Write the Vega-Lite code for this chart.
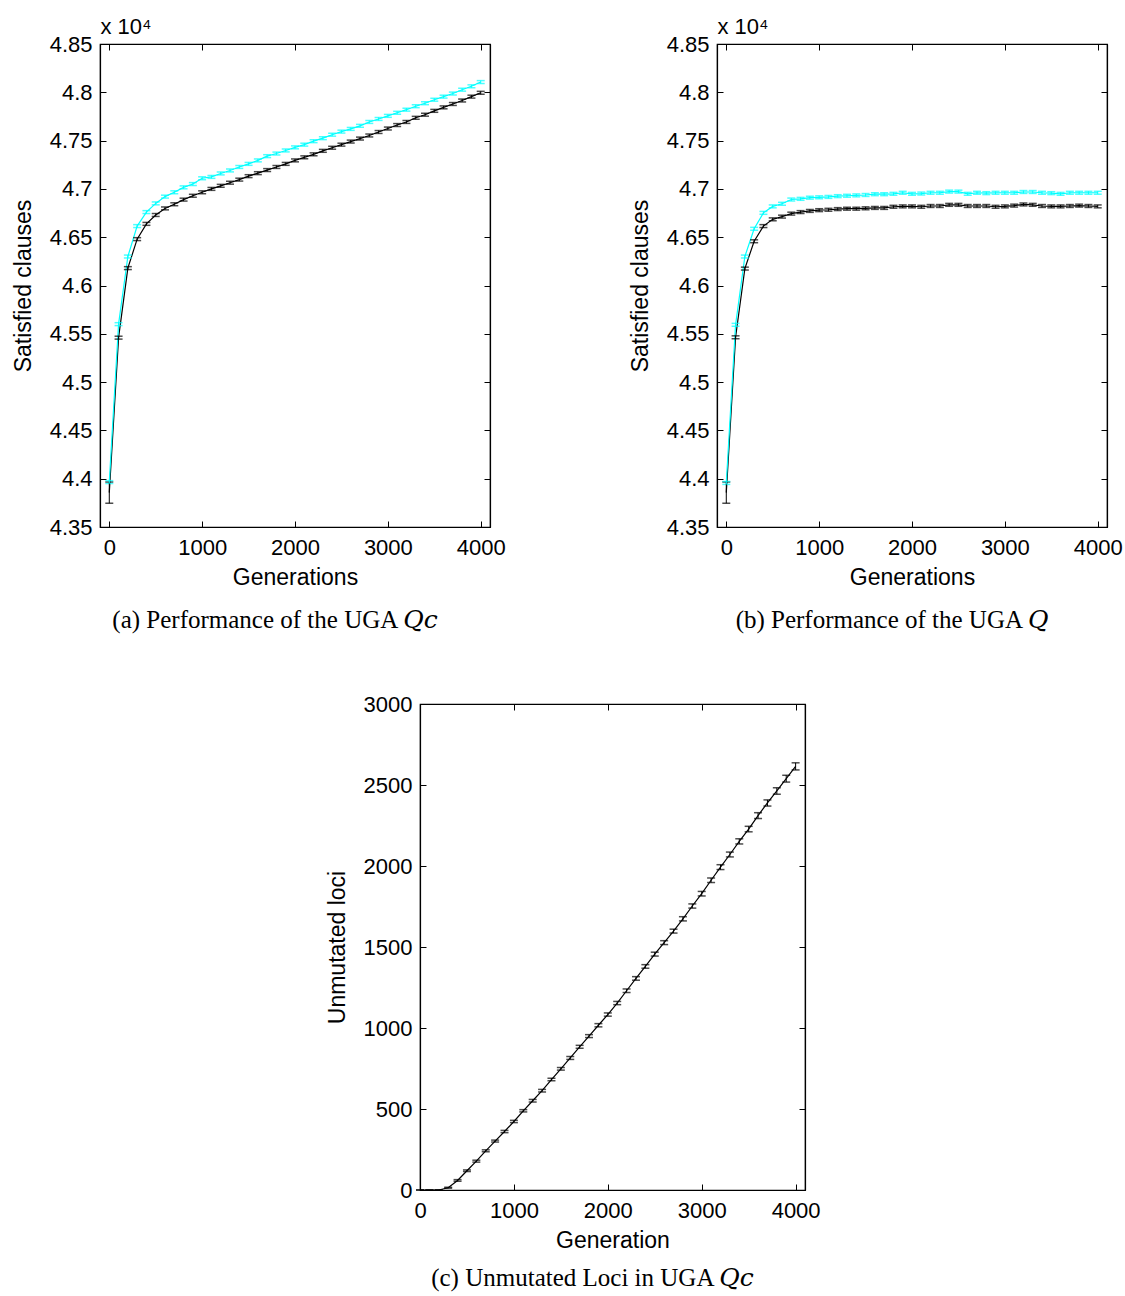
{
  "$schema": "https://vega.github.io/schema/vega-lite/v6.json",
  "autosize": {"type": "none"},
  "padding": {"left": 100, "top": 44, "right": 1025, "bottom": 1252},
  "background": "white",
  "config": {
    "view": {"stroke": "black", "strokeWidth": 1.2},
    "axis": {
      "labelFont": "Liberation Sans", "labelFontSize": 22, "labelColor": "black", "labelPadding": 14,
      "titleFont": "Liberation Sans", "titleFontSize": 23, "titleFontWeight": "normal", "titleColor": "black",
      "domainColor": "black", "domainWidth": 1.2, "tickColor": "black", "tickSize": -6, "grid": false,
      "labelFlush": false, "labelOverlap": false, "format": "d"
    },
    "title": {"font": "Liberation Serif, DejaVu Serif", "fontSize": 25, "fontWeight": "normal", "color": "black", "dx": -20}
  },
  "datasets": {
    "a": [
      {"g":0,"s":"black","m":4.3856,"e":0.011},{"g":100,"s":"black","m":4.546,"e":0.0015},{"g":200,"s":"black","m":4.618,"e":0.0015},{"g":300,"s":"black","m":4.648,"e":0.0015},{"g":400,"s":"black","m":4.6638,"e":0.0015},{"g":500,"s":"black","m":4.673,"e":0.0015},{"g":600,"s":"black","m":4.6798,"e":0.0015},{"g":700,"s":"black","m":4.6841,"e":0.0015},{"g":800,"s":"black","m":4.6889,"e":0.0015},{"g":900,"s":"black","m":4.6929,"e":0.0015},{"g":1000,"s":"black","m":4.6965,"e":0.0015},{"g":1100,"s":"black","m":4.7,"e":0.0015},{"g":1200,"s":"black","m":4.7032,"e":0.0015},{"g":1300,"s":"black","m":4.7064,"e":0.0015},{"g":1400,"s":"black","m":4.7096,"e":0.0015},{"g":1500,"s":"black","m":4.7132,"e":0.0015},{"g":1600,"s":"black","m":4.7163,"e":0.0015},{"g":1700,"s":"black","m":4.7195,"e":0.0015},{"g":1800,"s":"black","m":4.7227,"e":0.0015},{"g":1900,"s":"black","m":4.7259,"e":0.0015},{"g":2000,"s":"black","m":4.7295,"e":0.0015},{"g":2100,"s":"black","m":4.7327,"e":0.0015},{"g":2200,"s":"black","m":4.7358,"e":0.0015},{"g":2300,"s":"black","m":4.7394,"e":0.0015},{"g":2400,"s":"black","m":4.7426,"e":0.0015},{"g":2500,"s":"black","m":4.7458,"e":0.0015},{"g":2600,"s":"black","m":4.749,"e":0.0015},{"g":2700,"s":"black","m":4.7521,"e":0.0015},{"g":2800,"s":"black","m":4.7553,"e":0.0015},{"g":2900,"s":"black","m":4.7589,"e":0.0015},{"g":3000,"s":"black","m":4.7625,"e":0.0015},{"g":3100,"s":"black","m":4.7661,"e":0.0015},{"g":3200,"s":"black","m":4.7693,"e":0.0015},{"g":3300,"s":"black","m":4.7736,"e":0.0015},{"g":3400,"s":"black","m":4.7768,"e":0.0015},{"g":3500,"s":"black","m":4.7808,"e":0.0015},{"g":3600,"s":"black","m":4.7844,"e":0.0015},{"g":3700,"s":"black","m":4.7879,"e":0.0015},{"g":3800,"s":"black","m":4.7915,"e":0.0015},{"g":3900,"s":"black","m":4.7955,"e":0.0015},{"g":4000,"s":"black","m":4.7995,"e":0.0015},
      {"g":0,"s":"cyan","m":4.3965,"e":0.0015},{"g":100,"s":"cyan","m":4.56,"e":0.0015},{"g":200,"s":"cyan","m":4.63,"e":0.0015},{"g":300,"s":"cyan","m":4.6615,"e":0.0015},{"g":400,"s":"cyan","m":4.676,"e":0.0015},{"g":500,"s":"cyan","m":4.685,"e":0.0015},{"g":600,"s":"cyan","m":4.692,"e":0.0015},{"g":700,"s":"cyan","m":4.6965,"e":0.0015},{"g":800,"s":"cyan","m":4.7016,"e":0.0015},{"g":900,"s":"cyan","m":4.705,"e":0.0015},{"g":1000,"s":"cyan","m":4.711,"e":0.0015},{"g":1100,"s":"cyan","m":4.7124,"e":0.0015},{"g":1200,"s":"cyan","m":4.716,"e":0.0015},{"g":1300,"s":"cyan","m":4.7191,"e":0.0015},{"g":1400,"s":"cyan","m":4.7227,"e":0.0015},{"g":1500,"s":"cyan","m":4.7259,"e":0.0015},{"g":1600,"s":"cyan","m":4.7295,"e":0.0015},{"g":1700,"s":"cyan","m":4.7339,"e":0.0015},{"g":1800,"s":"cyan","m":4.7366,"e":0.0015},{"g":1900,"s":"cyan","m":4.7398,"e":0.0015},{"g":2000,"s":"cyan","m":4.743,"e":0.0015},{"g":2100,"s":"cyan","m":4.7458,"e":0.0015},{"g":2200,"s":"cyan","m":4.7494,"e":0.0015},{"g":2300,"s":"cyan","m":4.7525,"e":0.0015},{"g":2400,"s":"cyan","m":4.7561,"e":0.0015},{"g":2500,"s":"cyan","m":4.7593,"e":0.0015},{"g":2600,"s":"cyan","m":4.7621,"e":0.0015},{"g":2700,"s":"cyan","m":4.7653,"e":0.0015},{"g":2800,"s":"cyan","m":4.7693,"e":0.0015},{"g":2900,"s":"cyan","m":4.7724,"e":0.0015},{"g":3000,"s":"cyan","m":4.7756,"e":0.0015},{"g":3100,"s":"cyan","m":4.7788,"e":0.0015},{"g":3200,"s":"cyan","m":4.782,"e":0.0015},{"g":3300,"s":"cyan","m":4.7856,"e":0.0015},{"g":3400,"s":"cyan","m":4.7887,"e":0.0015},{"g":3500,"s":"cyan","m":4.7923,"e":0.0015},{"g":3600,"s":"cyan","m":4.7955,"e":0.0015},{"g":3700,"s":"cyan","m":4.7987,"e":0.0015},{"g":3800,"s":"cyan","m":4.8027,"e":0.0015},{"g":3900,"s":"cyan","m":4.8062,"e":0.0015},{"g":4000,"s":"cyan","m":4.8106,"e":0.0015}
    ],
    "b": [
      {"g":0,"s":"black","m":4.3856,"e":0.011},{"g":100,"s":"black","m":4.5464,"e":0.0015},{"g":200,"s":"black","m":4.6175,"e":0.0015},{"g":300,"s":"black","m":4.6458,"e":0.0015},{"g":400,"s":"black","m":4.6615,"e":0.0015},{"g":500,"s":"black","m":4.6685,"e":0.0015},{"g":600,"s":"black","m":4.6713,"e":0.0015},{"g":700,"s":"black","m":4.6744,"e":0.0015},{"g":800,"s":"black","m":4.676,"e":0.0015},{"g":900,"s":"black","m":4.6772,"e":0.0015},{"g":1000,"s":"black","m":4.678,"e":0.0015},{"g":1100,"s":"black","m":4.6784,"e":0.0015},{"g":1200,"s":"black","m":4.6791,"e":0.0015},{"g":1300,"s":"black","m":4.6795,"e":0.0015},{"g":1400,"s":"black","m":4.6795,"e":0.0015},{"g":1500,"s":"black","m":4.6799,"e":0.0015},{"g":1600,"s":"black","m":4.6803,"e":0.0015},{"g":1700,"s":"black","m":4.6803,"e":0.0015},{"g":1800,"s":"black","m":4.6815,"e":0.0015},{"g":1900,"s":"black","m":4.6819,"e":0.0015},{"g":2000,"s":"black","m":4.6819,"e":0.0015},{"g":2100,"s":"black","m":4.6815,"e":0.0015},{"g":2200,"s":"black","m":4.6823,"e":0.0015},{"g":2300,"s":"black","m":4.6823,"e":0.0015},{"g":2400,"s":"black","m":4.6835,"e":0.0015},{"g":2500,"s":"black","m":4.6835,"e":0.0015},{"g":2600,"s":"black","m":4.6823,"e":0.0015},{"g":2700,"s":"black","m":4.6823,"e":0.0015},{"g":2800,"s":"black","m":4.6823,"e":0.0015},{"g":2900,"s":"black","m":4.6815,"e":0.0015},{"g":3000,"s":"black","m":4.6819,"e":0.0015},{"g":3100,"s":"black","m":4.6827,"e":0.0015},{"g":3200,"s":"black","m":4.6839,"e":0.0015},{"g":3300,"s":"black","m":4.6835,"e":0.0015},{"g":3400,"s":"black","m":4.6823,"e":0.0015},{"g":3500,"s":"black","m":4.6819,"e":0.0015},{"g":3600,"s":"black","m":4.6819,"e":0.0015},{"g":3700,"s":"black","m":4.6823,"e":0.0015},{"g":3800,"s":"black","m":4.6827,"e":0.0015},{"g":3900,"s":"black","m":4.6823,"e":0.0015},{"g":4000,"s":"black","m":4.6819,"e":0.0015},
      {"g":0,"s":"cyan","m":4.3956,"e":0.0015},{"g":100,"s":"cyan","m":4.5593,"e":0.0015},{"g":200,"s":"cyan","m":4.63,"e":0.0015},{"g":300,"s":"cyan","m":4.6587,"e":0.0015},{"g":400,"s":"cyan","m":4.6752,"e":0.0015},{"g":500,"s":"cyan","m":4.6819,"e":0.0015},{"g":600,"s":"cyan","m":4.6846,"e":0.0015},{"g":700,"s":"cyan","m":4.689,"e":0.0015},{"g":800,"s":"cyan","m":4.6897,"e":0.0015},{"g":900,"s":"cyan","m":4.6909,"e":0.0015},{"g":1000,"s":"cyan","m":4.6913,"e":0.0015},{"g":1100,"s":"cyan","m":4.6917,"e":0.0015},{"g":1200,"s":"cyan","m":4.6925,"e":0.0015},{"g":1300,"s":"cyan","m":4.6929,"e":0.0015},{"g":1400,"s":"cyan","m":4.6933,"e":0.0015},{"g":1500,"s":"cyan","m":4.6937,"e":0.0015},{"g":1600,"s":"cyan","m":4.6945,"e":0.0015},{"g":1700,"s":"cyan","m":4.6945,"e":0.0015},{"g":1800,"s":"cyan","m":4.6949,"e":0.0015},{"g":1900,"s":"cyan","m":4.696,"e":0.0015},{"g":2000,"s":"cyan","m":4.6949,"e":0.0015},{"g":2100,"s":"cyan","m":4.6952,"e":0.0015},{"g":2200,"s":"cyan","m":4.696,"e":0.0015},{"g":2300,"s":"cyan","m":4.696,"e":0.0015},{"g":2400,"s":"cyan","m":4.6972,"e":0.0015},{"g":2500,"s":"cyan","m":4.6972,"e":0.0015},{"g":2600,"s":"cyan","m":4.6949,"e":0.0015},{"g":2700,"s":"cyan","m":4.696,"e":0.0015},{"g":2800,"s":"cyan","m":4.6956,"e":0.0015},{"g":2900,"s":"cyan","m":4.696,"e":0.0015},{"g":3000,"s":"cyan","m":4.696,"e":0.0015},{"g":3100,"s":"cyan","m":4.696,"e":0.0015},{"g":3200,"s":"cyan","m":4.6968,"e":0.0015},{"g":3300,"s":"cyan","m":4.6968,"e":0.0015},{"g":3400,"s":"cyan","m":4.696,"e":0.0015},{"g":3500,"s":"cyan","m":4.6956,"e":0.0015},{"g":3600,"s":"cyan","m":4.6949,"e":0.0015},{"g":3700,"s":"cyan","m":4.696,"e":0.0015},{"g":3800,"s":"cyan","m":4.696,"e":0.0015},{"g":3900,"s":"cyan","m":4.696,"e":0.0015},{"g":4000,"s":"cyan","m":4.696,"e":0.0015}
    ],
    "c": [
      {"g":0,"m":0,"e":0},{"g":100,"m":0,"e":0},{"g":200,"m":0,"e":0},{"g":300,"m":14,"e":3},{"g":400,"m":59,"e":5},{"g":500,"m":119,"e":5},{"g":600,"m":178,"e":6},{"g":700,"m":242,"e":6},{"g":800,"m":302,"e":6},{"g":900,"m":361,"e":7},{"g":1000,"m":423,"e":7},{"g":1100,"m":489,"e":7},{"g":1200,"m":551,"e":8},{"g":1300,"m":613,"e":8},{"g":1400,"m":682,"e":8},{"g":1500,"m":748,"e":8},{"g":1600,"m":815,"e":9},{"g":1700,"m":884,"e":9},{"g":1800,"m":950,"e":9},{"g":1900,"m":1017,"e":10},{"g":2000,"m":1083,"e":10},{"g":2100,"m":1154,"e":10},{"g":2200,"m":1230,"e":11},{"g":2300,"m":1306,"e":11},{"g":2400,"m":1380,"e":11},{"g":2500,"m":1456,"e":12},{"g":2600,"m":1527,"e":12},{"g":2700,"m":1598,"e":12},{"g":2800,"m":1674,"e":13},{"g":2900,"m":1753,"e":13},{"g":3000,"m":1829,"e":14},{"g":3100,"m":1912,"e":14},{"g":3200,"m":1993,"e":15},{"g":3300,"m":2071,"e":15},{"g":3400,"m":2152,"e":16},{"g":3500,"m":2228,"e":17},{"g":3600,"m":2311,"e":18},{"g":3700,"m":2389,"e":19},{"g":3800,"m":2463,"e":20},{"g":3900,"m":2539,"e":21},{"g":4000,"m":2615,"e":22}
    ]
  },
  "bounds": "full",
  "spacing": 58,
  "vconcat": [
    {
      "bounds": "flush",
      "spacing": 227,
      "hconcat": [
        {
          "width": 390, "height": 483,
          "data": {"name": "a"},
          "title": {"text": "(a) Performance of the UGA 𝑄𝑐", "orient": "bottom", "offset": 19},
          "resolve": {"axis": {"x": "independent", "y": "independent"}},
          "layer": [
            {
              "mark": {"type": "line", "strokeWidth": 1.2},
              "encoding": {
                "x": {"field": "g", "type": "quantitative", "scale": {"domain": [-100, 4100], "nice": false}, "axis": {"orient": "bottom", "title": "Generations", "values": [0, 1000, 2000, 3000, 4000], "labelPadding": 16, "titlePadding": 8}},
                "y": {"field": "m", "type": "quantitative", "scale": {"domain": [4.35, 4.85], "nice": false, "zero": false}, "axis": {"title": "Satisfied clauses", "values": [4.35, 4.4, 4.45, 4.5, 4.55, 4.6, 4.65, 4.7, 4.75, 4.8, 4.85], "format": "~g", "titlePadding": 14}},
                "color": {"field": "s", "type": "nominal", "scale": {"domain": ["black", "cyan"], "range": ["#000000", "#00ffff"]}, "legend": null}
              }
            },
            {
              "mark": {"type": "errorbar", "ticks": {"size": 8, "thickness": 1.5}},
              "encoding": {
                "x": {"field": "g", "type": "quantitative", "axis": {"orient": "top", "labels": false, "title": "x 10⁴", "titleAnchor": "start", "titleAlign": "left", "titleFontSize": 22, "titlePadding": 5, "values": [0, 1000, 2000, 3000, 4000]}},
                "y": {"field": "m", "type": "quantitative", "axis": {"orient": "right", "labels": false, "title": null, "values": [4.35, 4.4, 4.45, 4.5, 4.55, 4.6, 4.65, 4.7, 4.75, 4.8, 4.85]}},
                "yError": {"field": "e"},
                "color": {"field": "s", "type": "nominal", "legend": null}
              }
            }
          ]
        },
        {
          "width": 390, "height": 483,
          "data": {"name": "b"},
          "title": {"text": "(b) Performance of the UGA 𝑄", "orient": "bottom", "offset": 19},
          "resolve": {"axis": {"x": "independent", "y": "independent"}},
          "layer": [
            {
              "mark": {"type": "line", "strokeWidth": 1.2},
              "encoding": {
                "x": {"field": "g", "type": "quantitative", "scale": {"domain": [-100, 4100], "nice": false}, "axis": {"orient": "bottom", "title": "Generations", "values": [0, 1000, 2000, 3000, 4000], "labelPadding": 16, "titlePadding": 8}},
                "y": {"field": "m", "type": "quantitative", "scale": {"domain": [4.35, 4.85], "nice": false, "zero": false}, "axis": {"title": "Satisfied clauses", "values": [4.35, 4.4, 4.45, 4.5, 4.55, 4.6, 4.65, 4.7, 4.75, 4.8, 4.85], "format": "~g", "titlePadding": 14}},
                "color": {"field": "s", "type": "nominal", "scale": {"domain": ["black", "cyan"], "range": ["#000000", "#00ffff"]}, "legend": null}
              }
            },
            {
              "mark": {"type": "errorbar", "ticks": {"size": 8, "thickness": 1.5}},
              "encoding": {
                "x": {"field": "g", "type": "quantitative", "axis": {"orient": "top", "labels": false, "title": "x 10⁴", "titleAnchor": "start", "titleAlign": "left", "titleFontSize": 22, "titlePadding": 5, "values": [0, 1000, 2000, 3000, 4000]}},
                "y": {"field": "m", "type": "quantitative", "axis": {"orient": "right", "labels": false, "title": null, "values": [4.35, 4.4, 4.45, 4.5, 4.55, 4.6, 4.65, 4.7, 4.75, 4.8, 4.85]}},
                "yError": {"field": "e"},
                "color": {"field": "s", "type": "nominal", "legend": null}
              }
            }
          ]
        }
      ]
    },
    {
      "bounds": "flush",
      "spacing": 20,
      "hconcat": [
        {
          "width": 300, "height": 10,
          "view": {"stroke": null},
          "data": {"values": [{}]},
          "mark": {"type": "rule", "opacity": 0},
          "encoding": {}
        },
        {
          "width": 385, "height": 486,
          "data": {"name": "c"},
          "title": {"text": "(c) Unmutated Loci in UGA 𝑄𝑐", "orient": "bottom", "offset": 14},
          "resolve": {"axis": {"x": "independent", "y": "independent"}},
          "layer": [
            {
              "mark": {"type": "line", "strokeWidth": 1.2, "color": "black"},
              "encoding": {
                "x": {"field": "g", "type": "quantitative", "scale": {"domain": [0, 4100], "nice": false}, "axis": {"orient": "bottom", "title": "Generation", "values": [0, 1000, 2000, 3000, 4000], "labelPadding": 16, "titlePadding": 8}},
                "y": {"field": "m", "type": "quantitative", "scale": {"domain": [0, 3000], "nice": false}, "axis": {"title": "Unmutated loci", "values": [0, 500, 1000, 1500, 2000, 2500, 3000], "titlePadding": 14}}
              }
            },
            {
              "mark": {"type": "errorbar", "color": "black", "ticks": {"size": 8, "thickness": 1.5}},
              "encoding": {
                "x": {"field": "g", "type": "quantitative", "axis": {"orient": "top", "labels": false, "title": null, "values": [0, 1000, 2000, 3000, 4000]}},
                "y": {"field": "m", "type": "quantitative", "axis": {"orient": "right", "labels": false, "title": null, "values": [0, 500, 1000, 1500, 2000, 2500, 3000]}},
                "yError": {"field": "e"}
              }
            }
          ]
        }
      ]
    }
  ]
}
